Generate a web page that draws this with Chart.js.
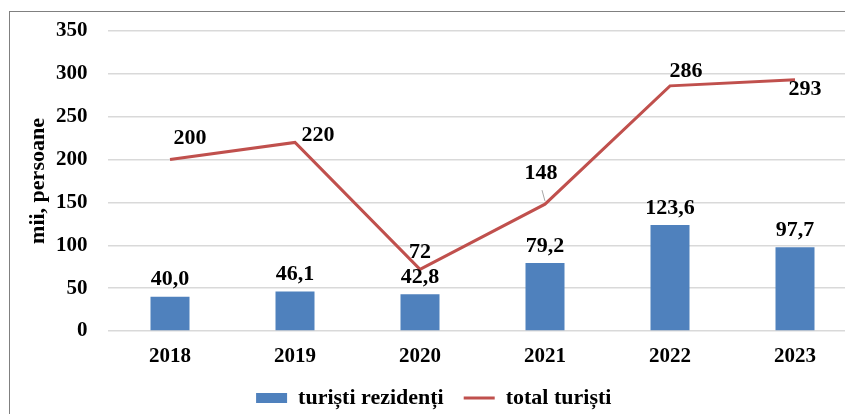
<!DOCTYPE html>
<html>
<head>
<meta charset="utf-8">
<script src="https://cdn.jsdelivr.net/npm/chart.js@4.4.1/dist/chart.umd.min.js"></script>
<style>
  html, body { margin: 0; padding: 0; background: #fff; overflow: hidden; }
  #box {
    position: absolute; left: 9px; top: 11px;
    width: 880px; height: 408px;
    border: 1px solid #808080;
  }
</style>
</head>
<body>
<div id="box"><canvas id="chart"></canvas></div>
<script>
// data
const years = ['2018', '2019', '2020', '2021', '2022', '2023'];
const residentTourists = [40.0, 46.1, 42.8, 79.2, 123.6, 97.7];
const totalTourists = [200, 220, 72, 148, 286, 293];
const yMin = 0, yMax = 350, yStep = 50;

const barColor = '#4F81BD';
const lineColor = '#C0504D';
const serif = "'Liberation Serif', 'Times New Roman', serif";

// label placement around the line points (dx, dy from the point)
const lineLabelOffsets = [[20, -21], [23, -7], [0, -17], [-4, -31], [16, -15], [10, 9]];

const valueLabels = {
  id: 'valueLabels',
  afterDatasetsDraw(chart) {
    const ctx = chart.ctx;
    ctx.save();
    ctx.font = `bold 22px ${serif}`;
    ctx.fillStyle = '#000';
    ctx.textAlign = 'center';
    ctx.textBaseline = 'middle';

    chart.getDatasetMeta(0).data.forEach((bar, i) => {
      const txt = residentTourists[i].toFixed(1).replace('.', ',');
      ctx.fillText(txt, bar.x, bar.y - 17);
    });

    chart.getDatasetMeta(1).data.forEach((pt, i) => {
      const [dx, dy] = lineLabelOffsets[i];
      if (i === 3) {
        // small leader line for 148
        ctx.strokeStyle = '#a6a6a6';
        ctx.lineWidth = 1;
        ctx.beginPath();
        ctx.moveTo(pt.x - 3, pt.y - 14);
        ctx.lineTo(pt.x, pt.y - 3);
        ctx.stroke();
      }
      ctx.fillText(String(totalTourists[i]), pt.x + dx, pt.y + dy);
    });
    ctx.restore();
  }
};

new Chart(document.getElementById('chart'), {
  type: 'bar',
  data: {
    labels: years,
    datasets: [
      {
        type: 'bar',
        label: 'turiști rezidenți',
        data: residentTourists,
        backgroundColor: barColor,
        borderWidth: 0,
        barPercentage: 0.312,
        categoryPercentage: 1,
        pointStyle: 'rect'
      },
      {
        type: 'line',
        label: 'total turiști',
        data: totalTourists,
        borderColor: lineColor,
        backgroundColor: lineColor,
        borderWidth: 3,
        pointRadius: 0,
        pointStyle: 'line',
        tension: 0,
        fill: false
      }
    ]
  },
  options: {
    responsive: true,
    maintainAspectRatio: false,
    animation: false,
    layout: { padding: { top: 19, right: 32.5, bottom: 1, left: 0 } },
    plugins: {
      tooltip: { enabled: false },
      legend: {
        position: 'bottom',
        labels: {
          usePointStyle: true,
          pointStyleWidth: 31,
          boxHeight: 10,
          padding: 20,
          color: '#000',
          font: { family: serif, size: 22, weight: 'bold' }
        }
      }
    },
    scales: {
      x: {
        grid: { display: false, drawTicks: false },
        border: { display: false },
        ticks: {
          color: '#000',
          padding: 13,
          font: { family: serif, size: 21, weight: 'bold' }
        },
        afterFit(scale) { scale.height = 36; }
      },
      y: {
        min: yMin,
        max: yMax,
        grid: { color: '#d9d9d9', lineWidth: 1.5, drawTicks: false, tickLength: 0 },
        border: { display: false },
        ticks: {
          stepSize: yStep,
          color: '#000',
          padding: 20,
          font: { family: serif, size: 21, weight: 'bold' }
        },
        title: {
          display: true,
          text: 'mii, persoane',
          color: '#000',
          padding: { top: 15, bottom: 0 },
          font: { family: serif, size: 22, weight: 'bold' }
        },
        afterFit(scale) {
          scale.width = 97.5;
          scale.paddingTop = 12;
          scale.paddingBottom = 12;
        }
      }
    }
  },
  plugins: [valueLabels]
});
</script>
</body>
</html>
